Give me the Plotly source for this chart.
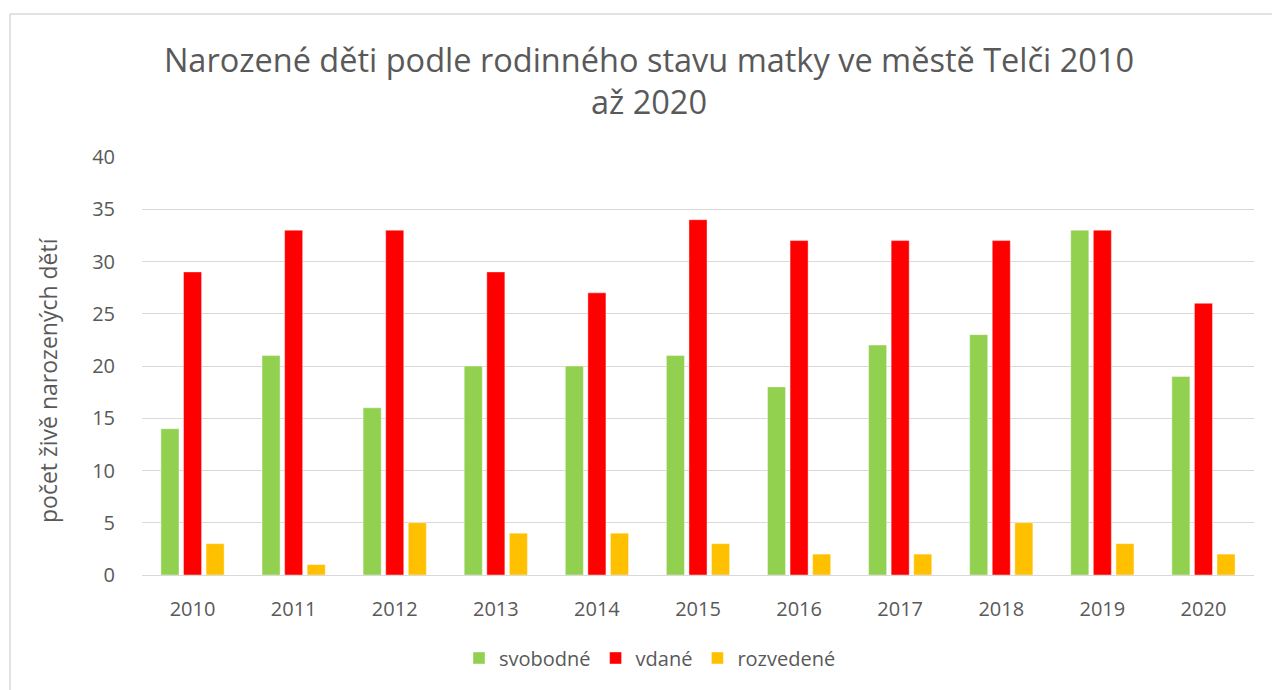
import plotly.graph_objects as go

years = ["2010", "2011", "2012", "2013", "2014", "2015", "2016", "2017", "2018", "2019", "2020"]
svobodne = [14, 21, 16, 20, 20, 21, 18, 22, 23, 33, 19]
vdane = [29, 33, 33, 29, 27, 34, 32, 32, 32, 33, 26]
rozvedene = [3, 1, 5, 4, 4, 3, 2, 2, 5, 3, 2]

series = [("svobodné", svobodne, "#92D050"), ("vdané", vdane, "#FF0000"), ("rozvedené", rozvedene, "#FFC000")]

fig = go.Figure()
for name, vals, col in series:
    fig.add_trace(go.Bar(x=years, y=vals, name=name,
                         marker=dict(color=col, line=dict(color="rgba(255,255,255,0.6)", width=0.7))))

font_fam = "Open Sans, Noto Sans, sans-serif"
L, R, T, B = 142, 18, 157, 115
W, H = 1272, 690
pw, ph = W - L - R, H - T - B

fig.update_layout(
    width=W, height=H,
    margin=dict(l=L, r=R, t=T, b=B),
    paper_bgcolor="white", plot_bgcolor="white",
    barmode="group", bargap=0.33, bargroupgap=0.2,
    font=dict(family=font_fam, color="#595959", size=20),
    title=dict(text="Narozené děti podle rodinného stavu matky ve městě Telči 2010<br>až 2020",
               x=649 / W, xanchor="center", y=1 - 72 / H, yanchor="top",
               font=dict(size=32.5, color="#595959", family=font_fam)),
    legend=dict(orientation="h", x=(650 - L) / pw, xanchor="center", y=-(658 - 575) / ph, yanchor="middle",
                font=dict(size=20, color="#595959"), itemwidth=30, traceorder="normal"),
    xaxis=dict(showgrid=False, showline=False, ticks="", ticklabelstandoff=20,
               tickfont=dict(size=20, color="#595959")),
    yaxis=dict(range=[0, 40], dtick=5, showgrid=True, gridcolor="#D9D9D9", gridwidth=1.2,
               zeroline=True, zerolinecolor="#D9D9D9", zerolinewidth=1.2, ticks="",
               ticklabelstandoff=26, tickfont=dict(size=20, color="#595959")),
    annotations=[dict(text="počet živě narozených dětí", textangle=-90, showarrow=False,
                      xref="paper", yref="paper", x=(48 - L) / pw, y=(575 - 380) / ph,
                      xanchor="center", yanchor="middle",
                      font=dict(size=23, color="#595959", family=font_fam))],
    shapes=[dict(type="rect", xref="paper", yref="paper",
                 x0=(10 - L) / pw, x1=(1290 - L) / pw,
                 y0=-(700 - 575) / ph, y1=(575 - 14) / ph,
                 line=dict(color="#D9D9D9", width=1.5), fillcolor="rgba(0,0,0,0)", layer="below")],
)

fig.write_html("out.html", config={"displayModeBar": False},
               post_script="document.body.style.margin='0';")
